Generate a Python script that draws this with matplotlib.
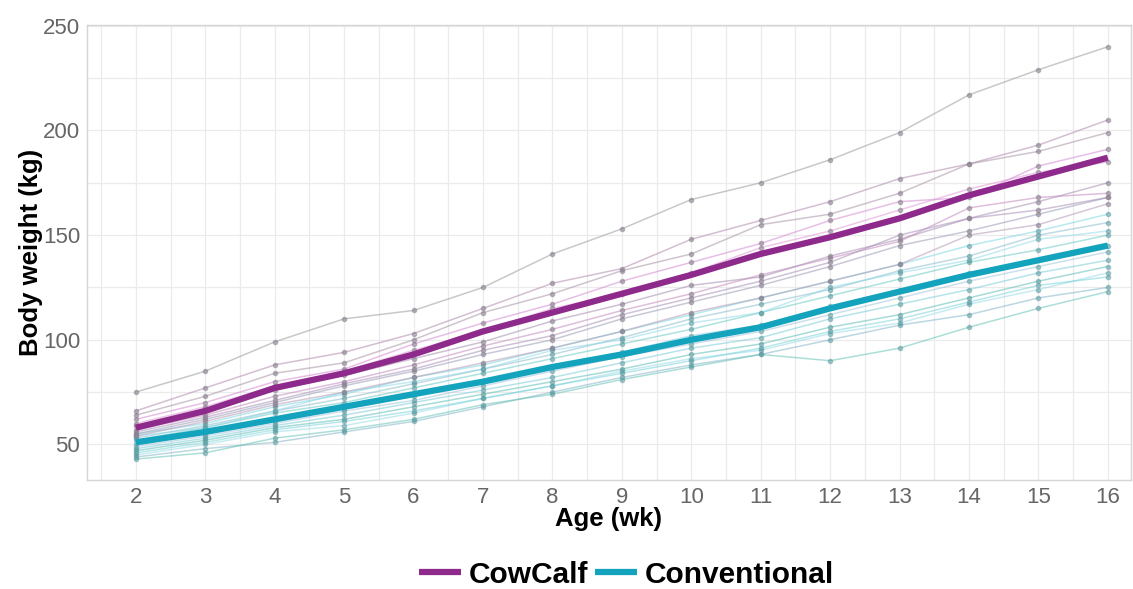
import matplotlib.pyplot as plt
from matplotlib.ticker import MultipleLocator
import numpy as np

plt.rcParams['font.family'] = ['Liberation Sans', 'DejaVu Sans']

weeks = [2, 3, 4, 5, 6, 7, 8, 9, 10, 11, 12, 13, 14, 15, 16]

# group means
cowcalf_mean = [58, 66, 77, 84, 93, 104, 113, 122, 131, 141, 149, 158, 169, 178, 187]
conv_mean = [51, 56, 62, 68, 74, 80, 87, 93, 100, 106, 115, 123, 131, 138, 145]

# individual calves, CowCalf group
cowcalf_1 = [75, 85, 99, 110, 114, 125, 141, 153, 167, 175, 186, 199, 217, 229, 240]
cowcalf_2 = [66, 77, 88, 94, 103, 115, 127, 134, 148, 157, 166, 177, 184, 193, 205]
cowcalf_3 = [64, 73, 84, 89, 100, 113, 122, 133, 141, 155, 160, 170, 184, 190, 199]
cowcalf_4 = [62, 70, 80, 86, 98, 108, 117, 128, 137, 146, 157, 166, 168, 183, 191]
cowcalf_5 = [59, 67, 76, 83, 91, 99, 109, 117, 126, 130, 140, 148, 158, 166, 175]
cowcalf_6 = [57, 64, 73, 80, 88, 97, 105, 114, 122, 131, 139, 147, 163, 168, 170]
cowcalf_7 = [55, 62, 70, 78, 85, 93, 100, 110, 118, 126, 135, 145, 152, 160, 168]
cowcalf_8 = [54, 61, 69, 75, 82, 89, 96, 104, 113, 120, 128, 136, 150, 155, 165]
cowcalf_9 = [60, 68, 78, 85, 95, 104, 115, 122, 132, 144, 152, 162, 172, 180, 185]
cowcalf_10 = [56, 63, 71, 79, 86, 95, 102, 112, 120, 128, 137, 150, 158, 162, 168]

# individual calves, Conventional group
conv_1 = [55, 60, 68, 74, 82, 88, 96, 104, 112, 120, 128, 136, 145, 152, 160]
conv_2 = [53, 59, 66, 72, 79, 86, 93, 101, 110, 117, 124, 133, 140, 150, 156]
conv_3 = [52, 58, 65, 70, 77, 84, 91, 98, 105, 113, 121, 129, 137, 143, 150]
conv_4 = [50, 55, 61, 67, 73, 80, 87, 94, 102, 107, 116, 124, 132, 138, 145]
conv_5 = [48, 53, 59, 64, 70, 76, 82, 89, 96, 101, 110, 117, 124, 132, 138]
conv_6 = [47, 52, 58, 62, 68, 74, 80, 86, 93, 98, 106, 112, 120, 128, 135]
conv_7 = [45, 50, 56, 59, 65, 72, 78, 85, 91, 95, 103, 108, 117, 124, 132]
conv_8 = [44, 48, 51, 56, 61, 68, 75, 82, 88, 93, 100, 107, 112, 120, 125]
conv_9 = [43, 46, 53, 57, 62, 69, 74, 81, 87, 93, 90, 96, 106, 115, 123]
conv_10 = [54, 58, 66, 75, 80, 86, 95, 100, 108, 113, 125, 132, 138, 148, 152]
conv_11 = [49, 54, 60, 66, 71, 78, 85, 92, 98, 104, 112, 120, 128, 135, 142]
conv_12 = [46, 51, 57, 61, 66, 72, 78, 84, 90, 96, 104, 110, 118, 126, 130]

cowcalf_calves = [cowcalf_1, cowcalf_2, cowcalf_3, cowcalf_4, cowcalf_5,
                  cowcalf_6, cowcalf_7, cowcalf_8, cowcalf_9, cowcalf_10]
conv_calves = [conv_1, conv_2, conv_3, conv_4, conv_5, conv_6,
               conv_7, conv_8, conv_9, conv_10, conv_11, conv_12]

purple = '#8e2a8c'
cyan = '#14a3bd'
cow_tints = ['#9c9c9c', '#b08aae', '#a894a6', '#d48ad0', '#a58fb0', '#c38abf',
             '#9a9cb8', '#b49ab4', '#e09ad8', '#a890b8']
conv_tints = ['#6fd3e0', '#7fb8c8', '#5cc6c0', '#8ccbe0', '#6fc9d6', '#4fb9b0',
              '#90d8e4', '#7ab0c4', '#5bbfb0', '#8ad6e8', '#9ac0d8', '#70d0d8']

fig = plt.figure(figsize=(11.33, 5.89), dpi=100)
ax = fig.add_axes([0.077, 0.185, 0.921, 0.773])

# thin lines for each calf
for vals, c in zip(conv_calves, conv_tints):
    ax.plot(weeks, vals, color=c, lw=1.1, alpha=0.5, zorder=2)
    ax.plot(weeks, vals, 'o', color='#5a9aa0', ms=3, alpha=0.5, zorder=2)
for vals, c in zip(cowcalf_calves, cow_tints):
    ax.plot(weeks, vals, color=c, lw=1.1, alpha=0.55, zorder=2)
    ax.plot(weeks, vals, 'o', color='#8a8090', ms=3, alpha=0.55, zorder=2)

# group means
ax.plot(weeks, cowcalf_mean, color=purple, lw=4.5, solid_capstyle='butt', label='CowCalf', zorder=4)
ax.plot(weeks, conv_mean, color=cyan, lw=4.5, solid_capstyle='butt', label='Conventional', zorder=4)

ax.set_xlim(1.3, 16.33)
ax.set_ylim(33, 250.5)
ax.xaxis.set_major_locator(MultipleLocator(1))
ax.xaxis.set_minor_locator(MultipleLocator(0.5))
ax.yaxis.set_major_locator(MultipleLocator(50))
ax.yaxis.set_minor_locator(MultipleLocator(25))
ax.grid(which='both', color='#ebebeb', lw=0.9, zorder=0)
ax.set_axisbelow(True)
ax.tick_params(which='both', length=0)
ax.tick_params(axis='both', labelsize=16, labelcolor='#666666', pad=5)
for sp in ax.spines.values():
    sp.set_color('#d6d6d6')
    sp.set_linewidth(1)

ax.set_xlabel('Age (wk)', fontsize=18.5, fontweight='bold', labelpad=-1)
ax.set_ylabel('Body weight (kg)', fontsize=18.5, fontweight='bold', labelpad=0)

fig.legend(loc='center', bbox_to_anchor=(0.553, 0.024), ncol=2, frameon=False,
           prop={'size': 21.5, 'weight': 'bold'}, handlelength=1.4, handletextpad=0.25,
           columnspacing=0.25)

fig.savefig('out.png', dpi=100)
